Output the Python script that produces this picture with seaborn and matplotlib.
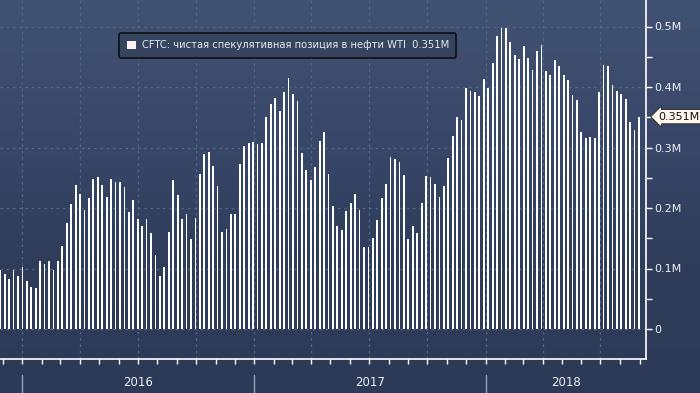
import numpy as np
import pandas as pd
import matplotlib
matplotlib.use("Agg")
import matplotlib.pyplot as plt
import matplotlib.dates as mdates
import matplotlib.transforms as mtransforms
from matplotlib.patches import Patch
from matplotlib.colors import LinearSegmentedColormap
import seaborn as sns

sns.set_theme(style="dark")
plt.rcParams['font.family'] = ['DejaVu Sans']

# weekly CFTC net speculative position in WTI, millions of contracts
start_date = '2015-11-27'
net_position = [
    0.097, 0.091, 0.082, 0.097, 0.088, 0.102, 0.079, 0.070, 0.068, 0.112,
    0.107, 0.112, 0.098, 0.112, 0.137, 0.176, 0.206, 0.238, 0.223, 0.196,
    0.216, 0.248, 0.251, 0.238, 0.218, 0.248, 0.243, 0.243, 0.234, 0.193,
    0.214, 0.181, 0.170, 0.181, 0.158, 0.122, 0.087, 0.103, 0.161, 0.246,
    0.221, 0.181, 0.190, 0.148, 0.183, 0.256, 0.289, 0.292, 0.269, 0.236,
    0.160, 0.165, 0.190, 0.190, 0.272, 0.302, 0.307, 0.309, 0.306, 0.307,
    0.350, 0.372, 0.382, 0.361, 0.392, 0.415, 0.388, 0.377, 0.291, 0.262,
    0.246, 0.267, 0.311, 0.325, 0.256, 0.204, 0.170, 0.163, 0.195, 0.208,
    0.223, 0.196, 0.135, 0.135, 0.151, 0.180, 0.216, 0.239, 0.284, 0.281,
    0.276, 0.254, 0.148, 0.171, 0.158, 0.209, 0.253, 0.251, 0.239, 0.219,
    0.236, 0.282, 0.319, 0.350, 0.345, 0.398, 0.393, 0.392, 0.385, 0.413,
    0.398, 0.440, 0.485, 0.498, 0.498, 0.475, 0.453, 0.446, 0.468, 0.448,
    0.428, 0.460, 0.470, 0.427, 0.420, 0.445, 0.435, 0.420, 0.412, 0.387,
    0.379, 0.325, 0.316, 0.317, 0.316, 0.392, 0.437, 0.435, 0.403, 0.393,
    0.388, 0.380, 0.342, 0.329, 0.351,
]
y_ticks = [0, 0.1, 0.2, 0.3, 0.4, 0.5]
y_tick_labels = ['0', '0.1M', '0.2M', '0.3M', '0.4M', '0.5M']
years = [2016, 2017, 2018]
legend_label = 'CFTC: чистая спекулятивная позиция в нефти WTI  0.351M'
last_label = '0.351M'

weeks = pd.date_range(start_date, periods=len(net_position), freq='7D')
df = pd.DataFrame({'date': mdates.date2num(weeks), 'value': net_position})

W, H = 700, 393
fig = plt.figure(figsize=(W / 100, H / 100), dpi=100)

# background gradient
bg = fig.add_axes([0, 0, 1, 1], zorder=0)
cmap = LinearSegmentedColormap.from_list('bb', ['#425272', '#39486a', '#2f3d5b', '#2c3a57'])
bg.imshow(np.linspace(0, 1, 256).reshape(-1, 1), aspect='auto', cmap=cmap,
          extent=[0, 1, 0, 1], origin='upper')
bg.set_axis_off()

ax_bottom_px = 359
ax_right_px = 646
ax = fig.add_axes([0, 1 - ax_bottom_px / H, ax_right_px / W, ax_bottom_px / H], zorder=1)
ax.patch.set_alpha(0)

sns.barplot(data=df, x='date', y='value', native_scale=True, color='white',
            saturation=1, width=0.4, linewidth=0, ax=ax, zorder=3)

x_left = mdates.date2num(pd.Timestamp('2015-11-26 16:00'))
x_right = mdates.date2num(pd.Timestamp('2018-09-11'))
ax.set_xlim(x_left, x_right)
ax.set_ylim(-30 / 605, 329 / 605)
ax.set_xlabel('')
ax.set_ylabel('')

grid_col = '#4e6a88'
ax.xaxis.set_major_locator(mdates.MonthLocator(bymonth=[1, 4, 7, 10]))
ax.xaxis.set_minor_locator(mdates.MonthLocator())
ax.set_xticklabels([])
ax.grid(True, axis='x', which='major', color=grid_col, linestyle=(0, (2, 3)), linewidth=0.9)
ax.grid(True, axis='y', which='major', color=grid_col, linestyle=(0, (2, 3)), linewidth=0.9)
ax.tick_params(axis='x', which='both', direction='out', length=3.5, width=1,
               color='white', bottom=True, labelbottom=False)

ax.yaxis.tick_right()
ax.set_yticks(y_ticks)
ax.set_yticklabels(y_tick_labels)
ax.set_yticks(np.arange(0.05, 0.55, 0.1), minor=True)
ax.tick_params(axis='y', which='both', direction='out', length=4, width=1,
               color='white', right=True, left=False, labelcolor='#eef1f6',
               labelsize=8, pad=2)

for side in ['top', 'left']:
    ax.spines[side].set_visible(False)
for side in ['bottom', 'right']:
    ax.spines[side].set_visible(True)
    ax.spines[side].set_color('white')
    ax.spines[side].set_linewidth(1.2)

# year labels with separators below the axis
trans = mtransforms.blended_transform_factory(ax.transData, ax.transAxes)
y_sep0 = -(375 - ax_bottom_px) / ax_bottom_px
y_sep1 = -(H - ax_bottom_px) / ax_bottom_px
y_lab = -(383 - ax_bottom_px) / ax_bottom_px
for yr in years:
    x0 = mdates.date2num(pd.Timestamp(f'{yr}-01-01'))
    x1 = min(mdates.date2num(pd.Timestamp(f'{yr + 1}-01-01')), x_right)
    ax.plot([x0, x0], [y_sep0, y_sep1], transform=trans, color='#9aa3b6',
            linewidth=1, clip_on=False)
    ax.text((x0 + x1) / 2, y_lab, str(yr), transform=trans, ha='center',
            va='center', color='#eef1f6', fontsize=8.5)

# legend box
leg = ax.legend(handles=[Patch(facecolor='#fdf1ee', edgecolor='none')],
                labels=[legend_label], loc='upper left',
                bbox_to_anchor=(119 / ax_right_px, 1 - 33 / ax_bottom_px),
                fontsize=7.2, frameon=True, fancybox=True, framealpha=1,
                facecolor='#35445f', edgecolor='#0b0e14', handlelength=0.9,
                handleheight=0.9, handletextpad=0.6, borderpad=0.75,
                borderaxespad=0)
leg.get_frame().set_linewidth(1.2)
for t in leg.get_texts():
    t.set_color('#e6e9f0')
leg.set_zorder(5)

# last value tag
ax.annotate(last_label, xy=(1, net_position[-1]), xycoords=('axes fraction', 'data'),
            xytext=(9, 0), textcoords='offset points', ha='left', va='center',
            fontsize=8, color='#111111',
            bbox=dict(boxstyle='larrow,pad=0.2', facecolor='#fff6ee',
                      edgecolor='#333333', linewidth=0.8),
            annotation_clip=False, zorder=6)

fig.savefig('out.png', dpi=100, facecolor='#2c3a57')
